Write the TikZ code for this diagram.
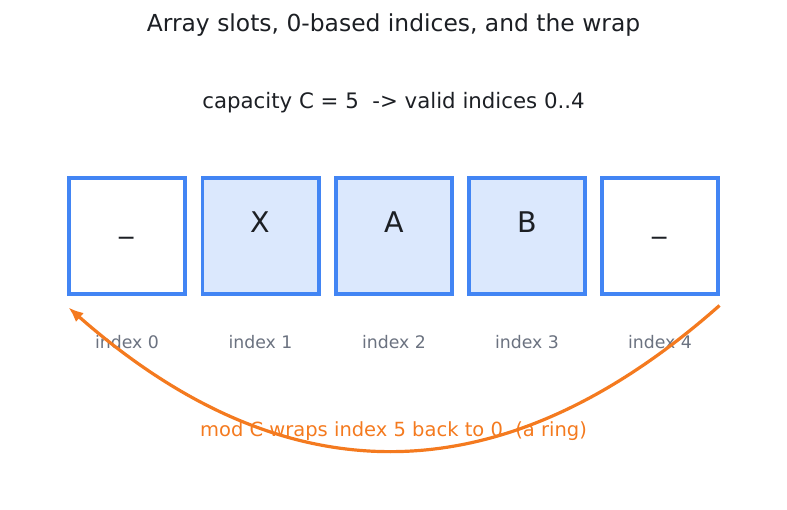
\documentclass[tikz,border=0pt]{standalone}
\usepackage{fontspec}
\setmainfont{DejaVu Sans}
\usetikzlibrary{arrows.meta,positioning}

\definecolor{slotblue}{HTML}{4285F4}
\definecolor{slotfill}{HTML}{DBE8FD}
\definecolor{wraporange}{HTML}{F47A1F}
\definecolor{inkdark}{HTML}{1C1F24}
\definecolor{idxgray}{HTML}{6B7280}

\begin{document}
\begin{tikzpicture}[x=1pt,y=-1pt,
  slot/.style={draw=slotblue,line width=3.6pt,minimum width=116.4pt,minimum height=116.4pt,inner sep=0pt},
  used/.style={slot,fill=slotfill},
  glyph/.style={text=inkdark,inner sep=0pt,font=\fontsize{28.5}{31}\selectfont},
  idx/.style={text=idxgray,font=\fontsize{17.3}{20}\selectfont},
  wrap/.style={draw=wraporange,line width=3.2pt,-{Latex[length=15pt,width=12pt]}}]

\useasboundingbox (0,0) rectangle (787,510);

% heading lines
\node[text=inkdark,font=\fontsize{23.4}{26}\selectfont] (title) at (393.5,25) {Array slots, 0-based indices, and the wrap};
\node[text=inkdark,font=\fontsize{21.3}{24}\selectfont] (cap) at (393.5,103) {capacity C = 5 \ -> valid indices 0..4};

% the five slots
\node[slot] (s0) at (127,236) {};
\node[used] (s1) at (260.5,236) {};
\node[used] (s2) at (394,236) {};
\node[used] (s3) at (527,236) {};
\node[slot] (s4) at (660,236) {};

\node[glyph] (c0) at (s0.center) {\_};
\node[glyph] (c1) at ([yshift=14pt]s1.center) {X};
\node[glyph] (c2) at ([yshift=14pt]s2.center) {A};
\node[glyph] (c3) at ([yshift=14pt]s3.center) {B};
\node[glyph] (c4) at (s4.center) {\_};

% indices under the slots
\foreach \i in {0,...,4}
  \node[idx] (i\i) at ([yshift=-46pt]s\i.south) {index \i};

% wrap around
\node[text=wraporange,font=\fontsize{19.5}{22}\selectfont] (ring) at (393.5,431) {mod C wraps index 5 back to 0 \ (a ring)};
\coordinate (wrapfrom) at ([xshift=-0.5pt,yshift=-9.5pt]s4.south east);
\coordinate (wrapto) at ([xshift=1.5pt,yshift=-11.5pt]s0.south west);
\draw[wrap] (wrapfrom) .. controls (502,498) and (286,499) .. (wrapto);

\end{tikzpicture}
\end{document}
